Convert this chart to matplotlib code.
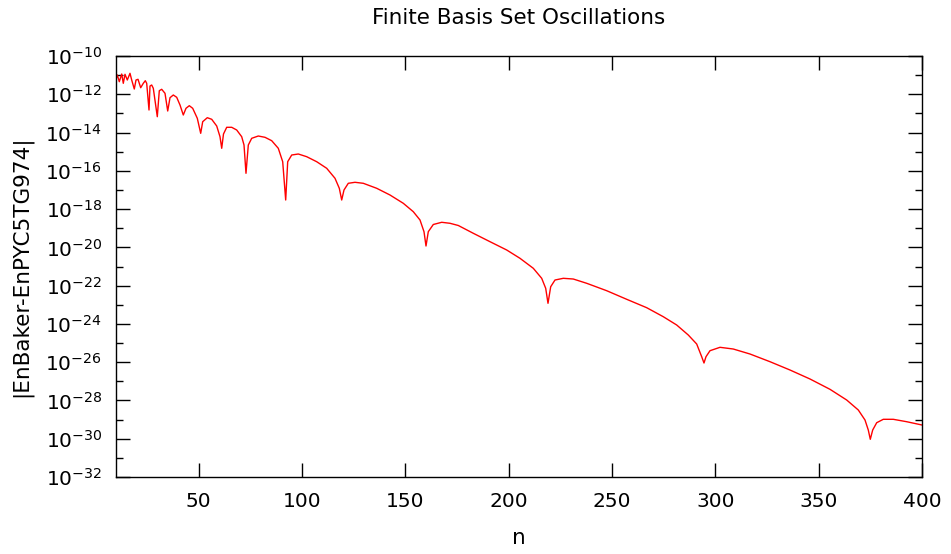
import math
import matplotlib
matplotlib.use("Agg")
import matplotlib.pyplot as plt
from matplotlib.ticker import FixedLocator, FuncFormatter

# n values and log10 |EnBaker - EnPYC5TG974|
n = [10.0, 10.63, 11.60, 12.76, 13.53, 14.35, 15.47, 16.77, 17.60, 18.85,
     19.68, 20.65, 21.95, 23.21, 24.18, 24.85, 25.97, 26.45, 27.27, 28.05,
     29.98, 30.95, 32.11, 33.71, 35.02, 36.13, 37.73, 39.37, 40.97, 42.56,
     43.87, 45.47, 47.11, 49.34, 50.98, 51.95, 54.18, 56.31, 58.73, 60.32,
     61.15, 62.01, 63.57, 65.99, 68.40, 70.82, 71.94, 72.90, 74.02, 75.66,
     78.85, 82.10, 85.34, 88.53, 90.66, 92.11, 93.08, 95.02, 98.21, 102.27,
     107.11, 111.95, 115.97, 118.05, 119.21, 120.32, 122.40, 125.64, 129.66, 136.14,
     142.58, 149.01, 153.85, 157.10, 159.03, 160.00, 161.11, 163.53, 167.60, 171.61,
     175.63, 182.89, 190.97, 199.05, 205.48, 211.92, 215.98, 217.92, 219.03, 220.34,
     222.42, 226.44, 231.27, 237.76, 247.43, 257.11, 266.79, 274.82, 281.30, 286.91,
     290.98, 293.40, 294.51, 295.48, 297.42, 302.26, 308.69, 316.77, 326.45, 336.13,
     345.81, 355.48, 363.56, 369.18, 372.42, 374.01, 374.98, 376.14, 378.08, 381.27,
     386.11, 392.59, 400.0]
log10_dE = [-11.218, -10.993, -11.343, -10.941, -11.427, -10.956, -11.254, -10.904, -11.254, -11.725,
            -11.254, -11.218, -11.657, -11.427, -11.291, -11.427, -12.822, -11.568, -11.516, -11.688,
            -13.172, -11.813, -11.740, -11.949, -12.874, -12.179, -12.038, -12.158, -12.561, -13.083,
            -12.733, -12.597, -12.733, -13.256, -14.040, -13.433, -13.224, -13.308, -13.658, -14.217,
            -14.823, -14.076, -13.726, -13.726, -13.867, -14.217, -14.651, -16.130, -14.651, -14.301,
            -14.181, -14.249, -14.426, -14.823, -15.524, -17.525, -15.524, -15.174, -15.121, -15.262,
            -15.524, -15.868, -16.391, -16.913, -17.525, -17.002, -16.652, -16.600, -16.652, -16.913,
            -17.264, -17.697, -18.136, -18.570, -19.181, -19.929, -19.181, -18.805, -18.690, -18.742,
            -18.857, -19.265, -19.704, -20.138, -20.572, -21.094, -21.617, -22.140, -22.923, -22.056,
            -21.706, -21.617, -21.654, -21.878, -22.265, -22.714, -23.153, -23.624, -24.057, -24.580,
            -25.050, -25.714, -26.043, -25.714, -25.400, -25.223, -25.312, -25.573, -25.975, -26.409,
            -26.879, -27.418, -27.977, -28.499, -29.022, -29.545, -30.030, -29.545, -29.163, -28.985,
            -28.985, -29.111, -29.283]

x_ticks = [50, 100, 150, 200, 250, 300, 350, 400]
y_major_exp = [-32, -30, -28, -26, -24, -22, -20, -18, -16, -14, -12, -10]
y_minor_exp = [-31, -29, -27, -25, -23, -21, -19, -17, -15, -13, -11]

plt.rcParams['font.family'] = ['DejaVu Sans']
plt.rcParams['mathtext.default'] = 'regular'

FS = 15.5
TFS = 14.5

fig = plt.figure(figsize=(9.51, 5.54), dpi=100)
ax = fig.add_axes([116/951, 1-477/554, (922-116)/951, (477-56)/554])

dE = [10.0 ** e for e in log10_dE]
ax.plot(n, dE, color='#ff0000', lw=1.0)

ax.set_yscale('log')
ax.set_xlim(10, 400)
ax.set_ylim(1e-32, 1e-10)

ax.xaxis.set_major_locator(FixedLocator(x_ticks))
ax.yaxis.set_major_locator(FixedLocator([10.0 ** e for e in y_major_exp]))
ax.yaxis.set_minor_locator(FixedLocator([10.0 ** e for e in y_minor_exp]))
ax.yaxis.set_major_formatter(FuncFormatter(
    lambda v, p: r'$10^{%d}$' % round(math.log10(v))))
ax.yaxis.set_minor_formatter(FuncFormatter(lambda v, p: ''))

ax.tick_params(axis='both', which='major', direction='in', length=10, width=1,
               top=True, right=True, labelsize=TFS, color='black')
ax.tick_params(axis='y', which='major', pad=10)
ax.tick_params(axis='y', which='minor', direction='in', length=5, width=1,
               left=True, right=True)
ax.tick_params(axis='x', which='major', pad=11)
for s in ax.spines.values():
    s.set_linewidth(1.0)
    s.set_color('black')

fig.text(519/951, 1-18/554, 'Finite Basis Set Oscillations', fontsize=FS,
         ha='center', va='center')
ax.set_xlabel('n', fontsize=FS)
ax.set_ylabel('|EnBaker-EnPYC5TG974|', fontsize=FS)
ax.xaxis.set_label_coords(0.5, (477-538)/421)
ax.yaxis.set_label_coords((22-116)/806, 0.5)
ax.xaxis.label.set_va('center')
ax.yaxis.label.set_va('center')

fig.savefig('out.png', dpi=100)
